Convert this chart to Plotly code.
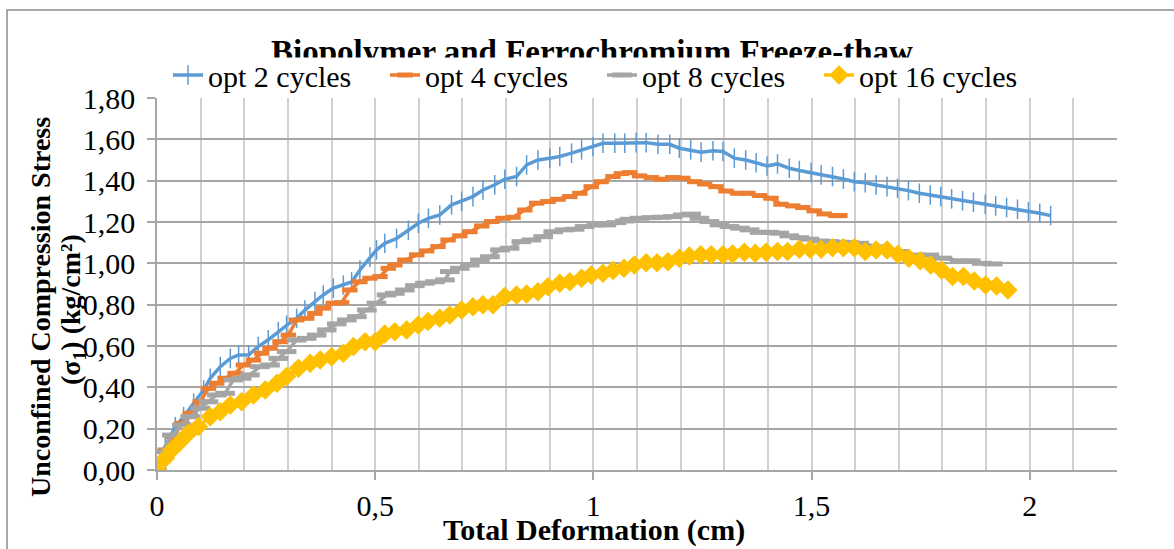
import plotly.graph_objects as go

SERIF = "Liberation Serif, Times New Roman, serif"

# ---- data: total deformation (cm) vs unconfined compression stress (kg/cm²) ----
opt2_x = [0, 0.019, 0.042, 0.061, 0.084, 0.107, 0.122, 0.145, 0.168, 0.187, 0.21, 0.232,
          0.255, 0.278, 0.297, 0.32, 0.339, 0.362, 0.381, 0.404, 0.427, 0.446, 0.465, 0.488,
          0.503, 0.522, 0.549, 0.576, 0.599, 0.622, 0.648, 0.675, 0.698, 0.724, 0.747, 0.774,
          0.797, 0.824, 0.847, 0.873, 0.90, 0.923, 0.95, 0.973, 0.999, 1.022, 1.049, 1.072,
          1.098, 1.121, 1.148, 1.175, 1.197, 1.223, 1.247, 1.274, 1.297, 1.323, 1.349, 1.373,
          1.398, 1.422, 1.449, 1.472, 1.499, 1.522, 1.548, 1.573, 1.598, 1.623, 1.648, 1.673,
          1.697, 1.722, 1.747, 1.772, 1.796, 1.821, 1.846, 1.871, 1.898, 1.922, 1.947, 1.972,
          1.997, 2.023, 2.048]
opt2_y = [0, 0.113, 0.21, 0.258, 0.323, 0.387, 0.444, 0.50, 0.54, 0.557, 0.557, 0.597,
          0.63, 0.67, 0.70, 0.734, 0.774, 0.815, 0.847, 0.88, 0.895, 0.91, 0.968, 1.03,
          1.065, 1.097, 1.12, 1.16, 1.194, 1.218, 1.234, 1.283, 1.30, 1.323, 1.355, 1.38,
          1.407, 1.42, 1.476, 1.50, 1.508, 1.517, 1.533, 1.549, 1.565, 1.581, 1.581, 1.581,
          1.584, 1.584, 1.576, 1.576, 1.557, 1.549, 1.538, 1.545, 1.541, 1.509, 1.50, 1.487,
          1.471, 1.481, 1.46, 1.449, 1.439, 1.428, 1.42, 1.408, 1.395, 1.39, 1.379, 1.371,
          1.363, 1.352, 1.339, 1.331, 1.323, 1.312, 1.303, 1.296, 1.286, 1.278, 1.27, 1.262,
          1.25, 1.242, 1.231]

opt4_x = [0, 0.019, 0.038, 0.057, 0.076, 0.099, 0.118, 0.137, 0.156, 0.179, 0.198, 0.221,
          0.24, 0.259, 0.282, 0.301, 0.32, 0.343, 0.362, 0.381, 0.404, 0.423, 0.442, 0.465,
          0.488, 0.511, 0.53, 0.545, 0.568, 0.595, 0.618, 0.644, 0.667, 0.694, 0.717, 0.744,
          0.767, 0.793, 0.816, 0.843, 0.87, 0.896, 0.919, 0.946, 0.969, 0.995, 1.018, 1.045,
          1.064, 1.083, 1.106, 1.133, 1.156, 1.182, 1.205, 1.232, 1.255, 1.281, 1.304, 1.331,
          1.354, 1.381, 1.407, 1.43, 1.457, 1.48, 1.506, 1.529, 1.556, 1.565]
opt4_y = [0, 0.097, 0.161, 0.226, 0.274, 0.33, 0.395, 0.42, 0.444, 0.468, 0.508, 0.532,
          0.565, 0.589, 0.621, 0.653, 0.726, 0.734, 0.758, 0.783, 0.807, 0.81, 0.871, 0.911,
          0.928, 0.936, 0.976, 0.992, 1.016, 1.041, 1.06, 1.081, 1.113, 1.133, 1.153, 1.181,
          1.202, 1.218, 1.223, 1.258, 1.291, 1.299, 1.31, 1.323, 1.339, 1.371, 1.395, 1.42,
          1.434, 1.439, 1.423, 1.415, 1.407, 1.415, 1.412, 1.395, 1.384, 1.371, 1.35, 1.339,
          1.339, 1.328, 1.315, 1.286, 1.278, 1.27, 1.254, 1.239, 1.231, 1.231]

opt8_x = [0, 0.011, 0.034, 0.057, 0.076, 0.099, 0.118, 0.137, 0.156, 0.175, 0.194, 0.213,
          0.236, 0.259, 0.278, 0.297, 0.32, 0.343, 0.366, 0.389, 0.412, 0.435, 0.458, 0.481,
          0.503, 0.526, 0.545, 0.568, 0.591, 0.614, 0.637, 0.66, 0.671, 0.694, 0.717, 0.74,
          0.763, 0.786, 0.808, 0.835, 0.858, 0.885, 0.908, 0.934, 0.957, 0.98, 1.007, 1.03,
          1.053, 1.072, 1.083, 1.106, 1.133, 1.156, 1.182, 1.205, 1.224, 1.243, 1.266, 1.289,
          1.312, 1.336, 1.358, 1.381, 1.404, 1.426, 1.449, 1.472, 1.495, 1.518, 1.541, 1.564,
          1.586, 1.609, 1.655, 1.70, 1.74, 1.77, 1.80, 1.84, 1.865, 1.89, 1.915]
opt8_y = [0, 0.089, 0.169, 0.218, 0.258, 0.299, 0.33, 0.363, 0.371, 0.436, 0.444, 0.46,
          0.50, 0.508, 0.54, 0.573, 0.629, 0.637, 0.653, 0.678, 0.707, 0.726, 0.742, 0.774,
          0.807, 0.847, 0.855, 0.871, 0.892, 0.904, 0.911, 0.92, 0.96, 0.976, 0.992, 1.016,
          1.032, 1.065, 1.073, 1.105, 1.113, 1.129, 1.153, 1.162, 1.165, 1.178, 1.186, 1.186,
          1.197, 1.205, 1.213, 1.218, 1.221, 1.223, 1.226, 1.234, 1.238, 1.218, 1.202, 1.186,
          1.178, 1.17, 1.162, 1.15, 1.15, 1.146, 1.133, 1.124, 1.117, 1.108, 1.105, 1.102,
          1.10, 1.097, 1.08, 1.057, 1.04, 1.04, 1.025, 1.012, 1.012, 1.0, 0.997]

opt16_x = [0, 0.019, 0.034, 0.053, 0.072, 0.095, 0.122, 0.145, 0.168, 0.194, 0.221, 0.248,
           0.275, 0.297, 0.324, 0.351, 0.374, 0.40, 0.427, 0.45, 0.477, 0.50, 0.522, 0.545,
           0.572, 0.599, 0.621, 0.648, 0.671, 0.698, 0.724, 0.747, 0.77, 0.797, 0.824, 0.847,
           0.873, 0.896, 0.923, 0.946, 0.973, 0.995, 1.022, 1.045, 1.07, 1.094, 1.121, 1.146,
           1.171, 1.197, 1.22, 1.246, 1.27, 1.297, 1.319, 1.346, 1.371, 1.396, 1.422, 1.445,
           1.472, 1.497, 1.522, 1.548, 1.573, 1.598, 1.623, 1.648, 1.673, 1.698, 1.723, 1.749,
           1.773, 1.798, 1.823, 1.848, 1.873, 1.899, 1.924, 1.95]
opt16_y = [0, 0.057, 0.097, 0.137, 0.178, 0.21, 0.258, 0.282, 0.315, 0.33, 0.363, 0.387,
           0.42, 0.452, 0.492, 0.516, 0.532, 0.548, 0.565, 0.597, 0.621, 0.621, 0.658, 0.669,
           0.678, 0.702, 0.718, 0.734, 0.75, 0.774, 0.79, 0.799, 0.799, 0.839, 0.847, 0.852,
           0.863, 0.887, 0.904, 0.911, 0.928, 0.944, 0.952, 0.965, 0.976, 0.992, 1.003, 1.003,
           1.008, 1.025, 1.036, 1.041, 1.041, 1.041, 1.045, 1.054, 1.049, 1.054, 1.057, 1.057,
           1.068, 1.068, 1.068, 1.076, 1.076, 1.075, 1.057, 1.065, 1.065, 1.044, 1.025, 1.012,
           0.992, 0.968, 0.936, 0.936, 0.915, 0.895, 0.89, 0.871]

series_names = ["opt 2 cycles", "opt 4 cycles", "opt 8 cycles", "opt 16 cycles"]
series_colors = ["#5b9bd5", "#ed7d31", "#a5a5a5", "#ffc000"]

markers = [
    dict(symbol="line-ns", size=14, line=dict(width=1.5, color=series_colors[0])),
    dict(symbol="line-ew", size=11, line=dict(width=5, color=series_colors[1])),
    dict(symbol="line-ew", size=14, line=dict(width=5, color=series_colors[2])),
    dict(symbol="diamond", size=15, color=series_colors[3], line=dict(width=0)),
]

fig = go.Figure()
for name, xs, ys, color, mk in zip(series_names,
                                   [opt2_x, opt4_x, opt8_x, opt16_x],
                                   [opt2_y, opt4_y, opt8_y, opt16_y],
                                   series_colors, markers):
    fig.add_trace(go.Scatter(x=xs, y=ys, name=name, mode="lines+markers",
                             line=dict(color=color, width=3.5), marker=mk))

# plot area in pixels: left 157, right 1117, top 98, bottom 470
L, R, T, B = 157, 1117, 98, 470
def px_x(p):
    return (p - L) / (R - L)
def px_y(p):
    return (B - p) / (B - T)

AXIS_GRAY = "#a6a6a6"
TICK_FONT = dict(family=SERIF, size=30, color="black")

fig.update_layout(
    width=1174, height=549,
    margin=dict(l=L, r=1174 - R, t=T, b=549 - B),
    paper_bgcolor="white", plot_bgcolor="white",
    separators=",.",
    font=dict(family=SERIF, size=30, color="black"),
    showlegend=True,
    legend=dict(orientation="h", x=px_x(168), xanchor="left",
                y=px_y(75), yanchor="middle", bgcolor="rgba(0,0,0,0)",
                font=dict(family=SERIF, size=30, color="black"),
                entrywidth=172, entrywidthmode="pixels",
                itemwidth=30, tracegroupgap=0),
    xaxis=dict(range=[0, 2.2], tick0=0, dtick=0.5, ticks="outside", ticklen=8,
               tickcolor=AXIS_GRAY, tickwidth=1.5, showline=True, linecolor=AXIS_GRAY,
               linewidth=1.5, showgrid=True, gridcolor="#d0d0d0", gridwidth=1.5,
               zeroline=False, ticklabelstandoff=0, tickfont=TICK_FONT,
               minor=dict(dtick=0.1, tick0=0, showgrid=True, gridcolor="#d0d0d0",
                          gridwidth=1.5, ticks="")),
    yaxis=dict(range=[0, 1.8], tick0=0, dtick=0.2, tickformat=".2f", ticks="outside",
               ticklen=8, tickcolor=AXIS_GRAY, tickwidth=1.5, showline=True,
               linecolor=AXIS_GRAY, linewidth=1.5, showgrid=True, gridcolor="#a6a6a6",
               gridwidth=1.5, zeroline=False, ticklabelstandoff=6, tickfont=TICK_FONT),
)

# outer chart frame
fig.add_shape(type="rect", xref="paper", yref="paper",
              x0=px_x(7), x1=px_x(1200), y0=px_y(580), y1=px_y(10),
              line=dict(color="#8c8c8c", width=1.5), fillcolor="rgba(0,0,0,0)",
              layer="below")

# chart title, partly covered by the legend's white box below it
fig.add_shape(type="rect", xref="paper", yref="paper",
              x0=px_x(150), x1=px_x(1034), y0=px_y(68), y1=px_y(28),
              line=dict(width=0), fillcolor="rgba(0,0,0,0)", layer="above",
              label=dict(text="<b>Biopolymer and Ferrochromium Freeze-thaw</b>",
                         textposition="middle center",
                         font=dict(family=SERIF, size=33, color="black")))
fig.add_shape(type="rect", xref="paper", yref="paper",
              x0=px_x(165), x1=px_x(1032), y0=px_y(94), y1=px_y(57.5),
              line=dict(width=0), fillcolor="white", layer="above")

# axis titles
fig.add_annotation(xref="paper", yref="paper", x=px_x(40), y=px_y(307),
                   text="<b>Unconfined Compression Stress</b>",
                   textangle=-90, showarrow=False, xanchor="center", yanchor="middle",
                   font=dict(family=SERIF, size=28, color="black"))
fig.add_annotation(xref="paper", yref="paper", x=px_x(72), y=px_y(310),
                   text="<b>(σ<sub>1</sub>) (kg/cm²)</b>",
                   textangle=-90, showarrow=False, xanchor="center", yanchor="middle",
                   font=dict(family=SERIF, size=28, color="black"))
fig.add_annotation(xref="paper", yref="paper", x=px_x(594), y=px_y(530),
                   text="<b>Total Deformation (cm)</b>", showarrow=False,
                   xanchor="center", yanchor="middle",
                   font=dict(family=SERIF, size=30, color="black"))

fig.write_html("out.html")
